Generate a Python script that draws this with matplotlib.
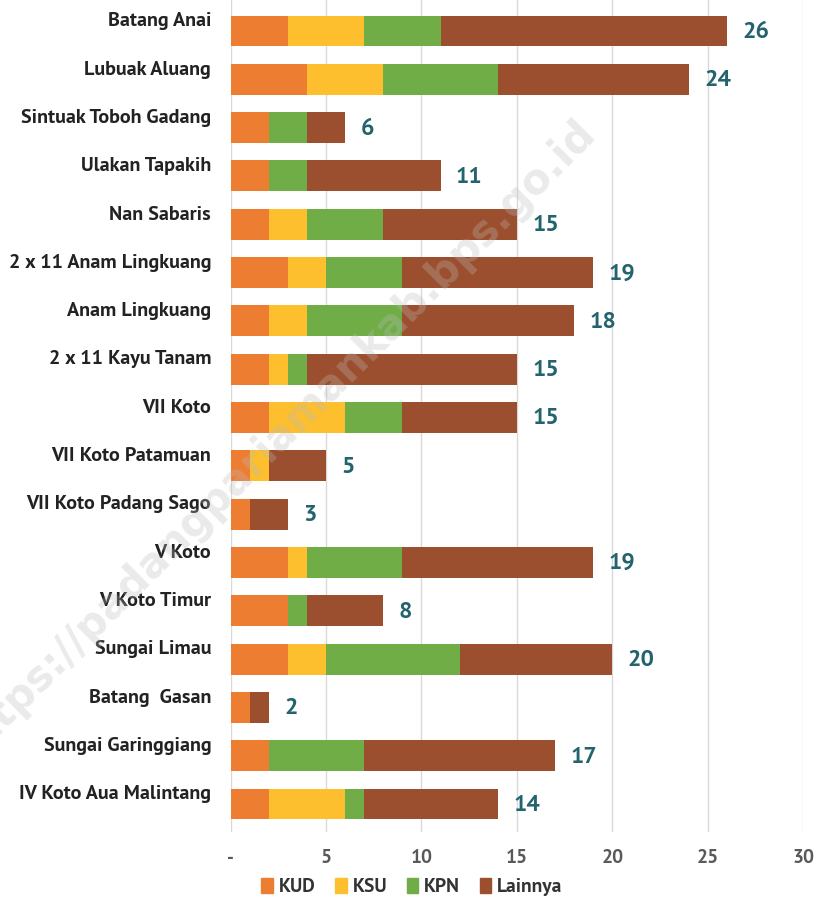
import numpy as np
import matplotlib
matplotlib.use("Agg")
from matplotlib import pyplot as plt
from matplotlib.patches import Patch

districts = ["Batang Anai", "Lubuak Aluang", "Sintuak Toboh Gadang", "Ulakan Tapakih",
             "Nan Sabaris", "2 x 11 Anam Lingkuang", "Anam Lingkuang", "2 x 11 Kayu Tanam",
             "VII Koto", "VII Koto Patamuan", "VII Koto Padang Sago", "V Koto",
             "V Koto Timur", "Sungai Limau", "Batang  Gasan", "Sungai Garinggiang",
             "IV Koto Aua Malintang"]
kud = [3, 4, 2, 2, 2, 3, 2, 2, 2, 1, 1, 3, 3, 3, 1, 2, 2]
ksu = [4, 4, 0, 0, 2, 2, 2, 1, 4, 1, 0, 1, 0, 2, 0, 0, 4]
kpn = [4, 6, 2, 2, 4, 4, 5, 1, 3, 0, 0, 5, 1, 7, 0, 5, 1]
lainnya = [15, 10, 2, 7, 7, 10, 9, 11, 6, 3, 2, 10, 4, 8, 1, 10, 7]
series_names = ["KUD", "KSU", "KPN", "Lainnya"]
colors = ["#ED7D31", "#FDBF2D", "#70AD47", "#9C4F2E"]

fam = ["PT Sans", "Open Sans", "DejaVu Sans"]
plt.rcParams["font.family"] = fam

fig = plt.figure(figsize=(8.19, 8.99), dpi=100)
ax = fig.add_axes([0.2816, 0.0745, 0.699, 0.9255])

y = np.arange(len(districts))
left = np.zeros(len(districts))
for name, vals, c in zip(series_names, [kud, ksu, kpn, lainnya], colors):
    ax.barh(y, vals, left=left, height=0.64, color=c, label=name, zorder=2)
    left += np.array(vals)

totals = left
for i, t in enumerate(totals):
    ax.annotate(f"{int(t)}", (t, i), xytext=(11, -1), textcoords="offset points",
                ha="left", va="center", fontsize=17, fontweight="bold", color="#22636E")

for i, d in enumerate(districts):
    ax.annotate(d, (0, i), xycoords=("axes fraction", "data"), xytext=(-14, 7),
                textcoords="offset points", ha="right", va="center",
                fontsize=14.5, fontweight="bold", color="#222222")

ax.set_xlim(0, 30)
ax.set_ylim(16.58, -0.642)
ax.set_xticks([0, 5, 10, 15, 20, 25, 30])
ax.set_xticklabels(["-", "5", "10", "15", "20", "25", "30"])
ax.tick_params(axis="x", length=0, pad=12, labelsize=14, labelcolor="#595959")
for lab in ax.get_xticklabels():
    lab.set_fontweight("bold")
ax.set_yticks([])
ax.grid(axis="x", color="#D9D9D9", linewidth=1, zorder=0)
for s in ax.spines.values():
    s.set_visible(False)

handles = [Patch(color=c, label=n) for n, c in zip(series_names, colors)]
leg = fig.legend(handles=handles, loc="center", bbox_to_anchor=(0.503, 0.013), ncol=4,
                 frameon=False, handlelength=0.6, handleheight=0.8, handletextpad=0.3,
                 columnspacing=1.0, prop={"weight": "bold", "size": 14, "family": fam})
for t in leg.get_texts():
    t.set_color("#333333")

fig.text(0.335, 0.51, "https://padangpariamankab.bps.go.id", rotation=45, fontsize=30,
         fontweight="bold", color="#BBBBBB", alpha=0.3, ha="center", va="center",
         family="DejaVu Sans", zorder=10)

fig.savefig("out.png", dpi=100)
